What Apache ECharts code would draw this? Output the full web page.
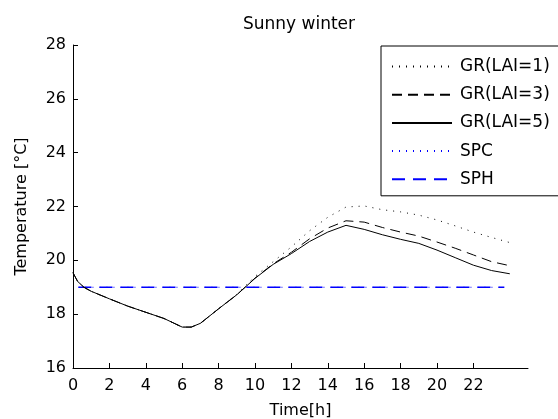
<!DOCTYPE html>
<html>
<head>
<meta charset="utf-8">
<script src="https://cdn.jsdelivr.net/npm/echarts@6/dist/echarts.min.js"></script>
<style>
html, body { margin: 0; padding: 0; background: #fff; }
#chartMain { width: 558px; height: 419px; }
</style>
</head>
<body>
<div id="chartMain"></div>
<script>
// time [h] and temperature [°C]
var times   = [0, 0.25, 0.6, 1, 2, 3, 4, 5, 6, 6.5, 7, 8, 9, 10, 11, 12, 13, 14, 15, 16, 17, 18, 19, 20, 21, 22, 23, 24];
var grLai5  = [19.54, 19.22, 19.0, 18.85, 18.57, 18.3, 18.07, 17.84, 17.52, 17.52, 17.66, 18.2, 18.72, 19.33, 19.85, 20.25, 20.7, 21.05, 21.3, 21.15, 20.95, 20.78, 20.63, 20.38, 20.1, 19.82, 19.62, 19.5];
var grLai3  = [19.54, 19.22, 19.0, 18.85, 18.57, 18.3, 18.07, 17.84, 17.52, 17.52, 17.66, 18.2, 18.72, 19.34, 19.87, 20.3, 20.8, 21.2, 21.47, 21.42, 21.22, 21.05, 20.9, 20.68, 20.45, 20.2, 19.95, 19.8];
var grLai1  = [19.54, 19.22, 19.0, 18.85, 18.57, 18.3, 18.07, 17.84, 17.52, 17.52, 17.66, 18.2, 18.74, 19.4, 19.95, 20.5, 21.1, 21.6, 21.98, 22.02, 21.88, 21.8, 21.68, 21.5, 21.28, 21.05, 20.85, 20.66];
var spTimes = [0.3, 23.7];
var spc     = [19, 19];
var sph     = [19, 19];
var xTicks  = [0, 2, 4, 6, 8, 10, 12, 14, 16, 18, 20, 22];

function pairs(xs, ys) {
    var out = [];
    for (var i = 0; i < xs.length; i++) {
        out.push([xs[i], ys[i]]);
    }
    return out;
}

var myChart = echarts.init(document.getElementById('chartMain'));
var font = 'DejaVu Sans';
var option = {
    animation: false,
    title: {
        text: 'Sunny winter',
        left: 294,
        textAlign: 'center',
        top: 11,
        textStyle: { fontFamily: font, fontSize: 17, fontWeight: 'normal', color: '#000' }
    },
    legend: {
        orient: 'vertical',
        left: 381,
        top: 46,
        padding: [12, 9, 8, 10],
        itemGap: 11.2,
        itemWidth: 60,
        itemHeight: 14,
        borderColor: '#000',
        borderWidth: 1,
        itemStyle: { opacity: 0 },
        textStyle: { fontFamily: font, fontSize: 17, color: '#000', padding: [0, 0, 0, 3] },
        data: ['GR(LAI=1)', 'GR(LAI=3)', 'GR(LAI=5)', 'SPC', 'SPH']
    },
    grid: { left: 73, right: 30, top: 45, bottom: 51, outerBoundsMode: 'none', containLabel: false },
    xAxis: {
        type: 'value',
        min: 0,
        max: 25,
        name: 'Time[h]',
        nameLocation: 'middle',
        nameGap: 35,
        nameTextStyle: { fontFamily: font, fontSize: 16, color: '#000' },
        axisLine: { lineStyle: { color: '#000' } },
        axisTick: { inside: true, length: 5, customValues: xTicks, lineStyle: { color: '#000' } },
        axisLabel: { customValues: xTicks, margin: 10, fontFamily: font, fontSize: 16, color: '#000' },
        splitLine: { show: false }
    },
    yAxis: {
        type: 'value',
        min: 16,
        max: 28,
        interval: 2,
        name: 'Temperature [°C]',
        nameLocation: 'middle',
        nameGap: 43,
        nameTextStyle: { fontFamily: font, fontSize: 16, color: '#000' },
        axisLine: { show: true, lineStyle: { color: '#000' } },
        axisTick: { show: true, inside: true, length: 5, lineStyle: { color: '#000' } },
        axisLabel: { margin: 7, fontFamily: font, fontSize: 16, color: '#000' },
        splitLine: { show: false }
    },
    series: [
        {
            name: 'GR(LAI=1)', type: 'line', symbol: 'none', z: 3,
            lineStyle: { color: '#000', width: 1, type: [1, 6] }, itemStyle: { color: '#000' },
            data: pairs(times, grLai1)
        },
        {
            name: 'GR(LAI=3)', type: 'line', symbol: 'none', z: 3,
            lineStyle: { color: '#000', width: 1, type: [10, 6] }, itemStyle: { color: '#000' },
            data: pairs(times, grLai3)
        },
        {
            name: 'GR(LAI=5)', type: 'line', symbol: 'none', z: 3,
            lineStyle: { color: '#000', width: 1 }, itemStyle: { color: '#000' },
            data: pairs(times, grLai5)
        },
        {
            name: 'SPC', type: 'line', symbol: 'none', z: 1,
            lineStyle: { color: '#0000ff', width: 1, type: [1, 6] }, itemStyle: { color: '#0000ff' },
            data: pairs(spTimes, spc)
        },
        {
            name: 'SPH', type: 'line', symbol: 'none', z: 2,
            lineStyle: { color: '#0000ff', width: 1.5, type: [13, 8] }, itemStyle: { color: '#0000ff' },
            data: pairs(spTimes, sph)
        }
    ]
};
myChart.setOption(option);
</script>
</body>
</html>
